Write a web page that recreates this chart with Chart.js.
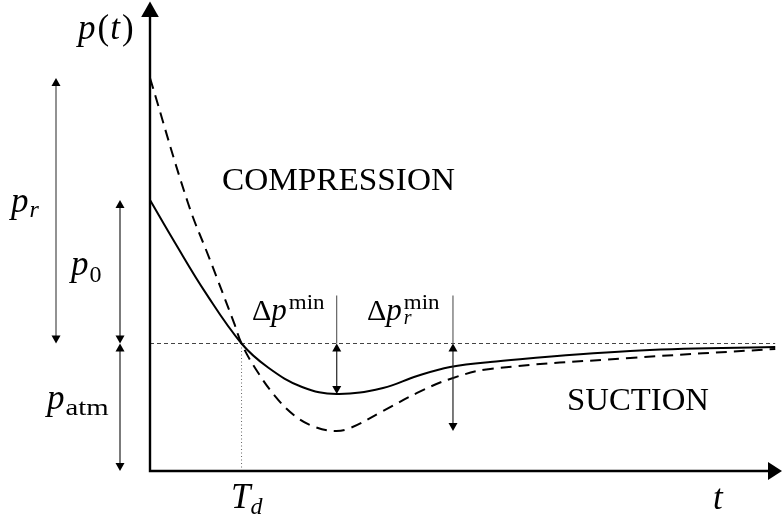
<!DOCTYPE html>
<html>
<head>
<meta charset="utf-8">
<script src="https://cdn.jsdelivr.net/npm/chart.js@4"></script>
<style>
  html, body { margin: 0; padding: 0; background: #fff; }
  #wrap { width: 782px; height: 521px; }
</style>
</head>
<body>
<div id="wrap"><canvas id="c"></canvas></div>
<script>
// Time normalised by the positive-phase duration T_d; pressure normalised by p_atm.
const tIncident = [0, 0.273, 0.601, 1.0, 1.290, 1.661, 2.040, 2.546, 2.918, 3.279, 3.716, 5.246, 6.831];
const pIncident = [2.125, 1.790, 1.405, 1.0, 0.812, 0.659, 0.604, 0.651, 0.745, 0.816, 0.855, 0.941, 0.973];

const tReflected = [0, 0.415, 0.656, 0.918, 1.0, 1.148, 1.366, 1.585, 1.803, 2.022, 2.186, 2.546, 2.918, 3.279, 3.716, 5.246, 6.831];
const pReflected = [3.082, 2.102, 1.655, 1.161, 1.0, 0.808, 0.588, 0.431, 0.345, 0.314, 0.337, 0.471, 0.612, 0.722, 0.800, 0.886, 0.957];

const pAtm = 1.0;        // ambient pressure level
const tDuration = 1.0;   // T_d
const tEnd = 6.85;       // end of the time axis
const tReflectedMark = 3.31; // where the reflected suction depth is marked
const pTop = 3.6;

const pts = (xs, ys) => xs.map((x, i) => ({ x: x, y: ys[i] }));

const FONT = '"Liberation Serif", "Times New Roman", serif';

function arrowHead(ctx, x, y, dir, len, half) {
  // dir: -1 pointing up, +1 pointing down
  ctx.beginPath();
  ctx.moveTo(x, y);
  ctx.lineTo(x - half, y - dir * len);
  ctx.lineTo(x + half, y - dir * len);
  ctx.closePath();
  ctx.fill();
}

function vArrow(ctx, x, yTop, yBot, color, lw) {
  const len = 8, half = 4.5;
  ctx.save();
  ctx.strokeStyle = color;
  ctx.lineWidth = lw;
  ctx.beginPath();
  ctx.moveTo(x, yTop + len - 1);
  ctx.lineTo(x, yBot - len + 1);
  ctx.stroke();
  ctx.fillStyle = '#000';
  arrowHead(ctx, x, yTop, -1, len, half);
  arrowHead(ctx, x, yBot, 1, len, half);
  ctx.restore();
}

// draws a run of text pieces: {s, it, size, dy, gap, stay, sx}
function drawRun(ctx, x, y, parts) {
  let cx = x;
  for (const p of parts) {
    ctx.font = (p.it ? 'italic ' : '') + p.size + 'px ' + FONT;
    const sx = p.sx || 1;
    ctx.save();
    ctx.translate(cx + (p.dx || 0), y + (p.dy || 0));
    ctx.scale(sx, 1);
    ctx.fillText(p.s, 0, 0);
    ctx.restore();
    if (!p.stay) cx += ctx.measureText(p.s).width * sx + (p.gap || 0);
  }
}

function stretchText(ctx, s, x, y, size, width) {
  ctx.font = size + 'px ' + FONT;
  const w = ctx.measureText(s).width;
  ctx.save();
  ctx.translate(x, y);
  ctx.scale(width / w, 1);
  ctx.fillText(s, 0, 0);
  ctx.restore();
}

const schematic = {
  id: 'schematic',
  afterDatasetsDraw(chart) {
    const ctx = chart.ctx;
    const a = chart.chartArea;
    const xs = chart.scales.x, ys = chart.scales.y;
    const y0 = ys.getPixelForValue(0);
    const yAtm = ys.getPixelForValue(pAtm);

    ctx.save();
    // axes with arrow tips
    ctx.strokeStyle = '#000';
    ctx.fillStyle = '#000';
    ctx.lineWidth = 2.4;
    ctx.beginPath();
    ctx.moveTo(a.left, y0 + 1.2);
    ctx.lineTo(a.left, 15);
    ctx.moveTo(a.left - 1.2, y0);
    ctx.lineTo(770, y0);
    ctx.stroke();
    ctx.beginPath();
    ctx.moveTo(a.left, 1.5);
    ctx.lineTo(a.left - 8.8, 17);
    ctx.lineTo(a.left + 8.8, 17);
    ctx.closePath();
    ctx.fill();
    ctx.beginPath();
    ctx.moveTo(782, y0);
    ctx.lineTo(768, y0 - 9);
    ctx.lineTo(768, y0 + 9);
    ctx.closePath();
    ctx.fill();

    // amplitude arrows on the left
    const xR = a.left - 94, x0 = a.left - 30;
    vArrow(ctx, xR, ys.getPixelForValue(pReflected[0]), yAtm, '#777', 1.6);
    vArrow(ctx, x0, ys.getPixelForValue(pIncident[0]), yAtm, '#222', 1.2);
    vArrow(ctx, x0, yAtm, y0, '#222', 1.2);

    // suction depth arrows
    const iMin = pIncident.indexOf(Math.min(...pIncident));
    const xMin = xs.getPixelForValue(tIncident[iMin]);
    const xMinR = xs.getPixelForValue(tReflectedMark);
    ctx.strokeStyle = '#444';
    ctx.lineWidth = 1;
    ctx.beginPath();
    ctx.moveTo(xMin, yAtm - 48); ctx.lineTo(xMin, yAtm);
    ctx.moveTo(xMinR, yAtm - 48); ctx.lineTo(xMinR, yAtm);
    ctx.stroke();
    vArrow(ctx, xMin, yAtm, ys.getPixelForValue(pIncident[iMin]), '#222', 1.2);
    vArrow(ctx, xMinR, yAtm, ys.getPixelForValue(Math.min(...pReflected)), '#222', 1.2);

    // labels
    ctx.fillStyle = '#000';
    ctx.textBaseline = 'alphabetic';
    drawRun(ctx, 78, 39, [
      { s: 'p', it: true, size: 35, gap: 2 },
      { s: '(', size: 35, gap: 1 },
      { s: 't', it: true, size: 35, gap: 2 },
      { s: ')', size: 35 }
    ]);
    drawRun(ctx, 11, 212, [
      { s: 'p', it: true, size: 35, gap: 1 },
      { s: 'r', it: true, size: 24, dy: 5 }
    ]);
    drawRun(ctx, 71, 275, [
      { s: 'p', it: true, size: 35, gap: 1 },
      { s: '0', size: 24, dy: 7 }
    ]);
    drawRun(ctx, 47, 409, [
      { s: 'p', it: true, size: 35, gap: 1 },
      { s: 'atm', size: 24, dy: 6, sx: 1.2 }
    ]);
    drawRun(ctx, 252, 320, [
      { s: '\u0394', size: 30, gap: 0 },
      { s: 'p', it: true, size: 31, gap: 2 },
      { s: 'min', size: 20, dy: -11, sx: 1.15 }
    ]);
    drawRun(ctx, 367, 320, [
      { s: '\u0394', size: 30, gap: 0 },
      { s: 'p', it: true, size: 31, gap: 2 },
      { s: 'r', it: true, size: 20, dy: 4, stay: true },
      { s: 'min', size: 20, dy: -11, sx: 1.15 }
    ]);
    drawRun(ctx, 231, 508, [
      { s: 'T', it: true, size: 35, gap: 0 },
      { s: 'd', it: true, size: 24, dy: 6 }
    ]);
    drawRun(ctx, 713, 509, [{ s: 't', it: true, size: 35 }]);

    stretchText(ctx, 'COMPRESSION', 222, 190, 31, 233);
    stretchText(ctx, 'SUCTION', 567, 410, 31, 142);
    ctx.restore();
  }
};

new Chart(document.getElementById('c'), {
  type: 'line',
  data: {
    datasets: [
      {
        label: 'p',
        data: pts(tIncident, pIncident),
        borderColor: '#000',
        borderWidth: 2,
        pointRadius: 0,
        tension: 0.4,
        fill: false
      },
      {
        label: 'p_r',
        data: pts(tReflected, pReflected),
        borderColor: '#000',
        borderWidth: 2,
        borderDash: [11, 7],
        pointRadius: 0,
        tension: 0.4,
        fill: false
      },
      {
        label: 'p_atm',
        data: [{ x: 0, y: pAtm }, { x: 6.83, y: pAtm }],
        borderColor: '#444',
        borderWidth: 1.2,
        borderDash: [4, 3],
        pointRadius: 0,
        fill: false
      },
      {
        label: 'T_d',
        data: [{ x: tDuration, y: 0 }, { x: tDuration, y: pAtm }],
        borderColor: '#666',
        borderWidth: 1,
        borderDash: [1, 2.5],
        pointRadius: 0,
        fill: false
      }
    ]
  },
  options: {
    responsive: true,
    maintainAspectRatio: false,
    animation: false,
    events: [],
    layout: { padding: { left: 150, right: 5, top: 12, bottom: 50 } },
    scales: {
      x: { type: 'linear', min: 0, max: tEnd, display: false },
      y: { type: 'linear', min: 0, max: pTop, display: false }
    },
    plugins: {
      legend: { display: false },
      tooltip: { enabled: false }
    }
  },
  plugins: [schematic]
});
</script>
</body>
</html>
